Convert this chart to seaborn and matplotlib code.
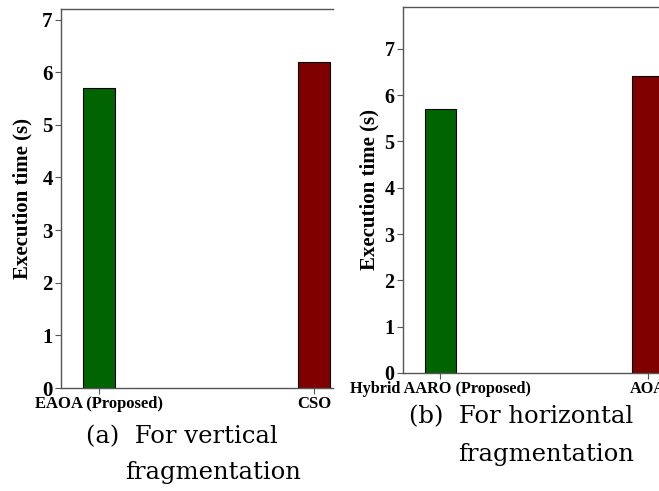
import matplotlib
matplotlib.use("Agg")
import matplotlib.pyplot as plt
import seaborn as sns
import pandas as pd

# Data
cats_a = ["EAOA (Proposed)", "CSO"]
vals_a = [5.70, 6.20]
cats_b = ["Hybrid AARO (Proposed)", "AOA"]
vals_b = [5.70, 6.42]
colors = ["#006400", "#800000"]
yticks_a = [0, 1, 2, 3, 4, 5, 6, 7]
yticks_b = [0, 1, 2, 3, 4, 5, 6, 7]

sns.set_theme(style="white")
plt.rcParams['font.family'] = ['Liberation Serif', 'DejaVu Serif']
plt.rcParams['text.color'] = 'black'
plt.rcParams['axes.labelcolor'] = 'black'
plt.rcParams['xtick.color'] = 'black'
plt.rcParams['ytick.color'] = 'black'

W, H = 659, 491
fig = plt.figure(figsize=(W / 100, H / 100), dpi=100)

def px_axes(x0, y_top, x1, y_bot):
    return fig.add_axes([x0 / W, (H - y_bot) / H, (x1 - x0) / W, (y_bot - y_top) / H])

def draw(ax, cats, vals, yticks, ylim, xlim, ylab_size, ytick_size, xtick_size):
    df = pd.DataFrame({"cat": cats, "val": vals})
    sns.barplot(data=df, x="cat", y="val", hue="cat", palette=colors, legend=False,
                saturation=1, width=0.15, edgecolor="black", linewidth=0.8, ax=ax)
    ax.set_ylim(*ylim)
    ax.set_xlim(*xlim)
    ax.set_xlabel("")
    ax.set_ylabel("Execution time (s)", fontsize=ylab_size, fontweight="bold")
    ax.set_yticks(yticks)
    for lab in ax.get_yticklabels():
        lab.set_fontweight("bold"); lab.set_fontsize(ytick_size)
    for lab in ax.get_xticklabels():
        lab.set_fontweight("bold"); lab.set_fontsize(xtick_size)
    ax.tick_params(axis="both", which="both", direction="out", length=4, width=0.8,
                   color="#555555", bottom=True, left=True, pad=2)
    for s in ["left", "top", "bottom"]:
        ax.spines[s].set_color("#555555")
        ax.spines[s].set_linewidth(1.0)
    ax.spines["right"].set_visible(False)

ax1 = px_axes(61, 9, 333, 388)
draw(ax1, cats_a, vals_a, yticks_a, (0, 7.2), (-0.177, 1.088), 15, 15, 12)
ax1.yaxis.labelpad = 7

ax2 = px_axes(403, 7, 659, 373)
draw(ax2, cats_b, vals_b, yticks_b, (0, 7.9), (-0.18, 1.053), 15, 14.5, 11.7)
ax2.yaxis.labelpad = 4

cap = dict(fontsize=17.5, family=['DejaVu Serif'], va="center", ha="left", color="black")
fig.text(86 / W, 1 - 437 / H, "(a)  For vertical", **cap)
fig.text(125 / W, 1 - 472 / H, "fragmentation", **cap)
fig.text(409 / W, 1 - 417 / H, "(b)  For horizontal", **cap)
fig.text(458 / W, 1 - 455 / H, "fragmentation", **cap)

fig.savefig("out.png", dpi=100)
